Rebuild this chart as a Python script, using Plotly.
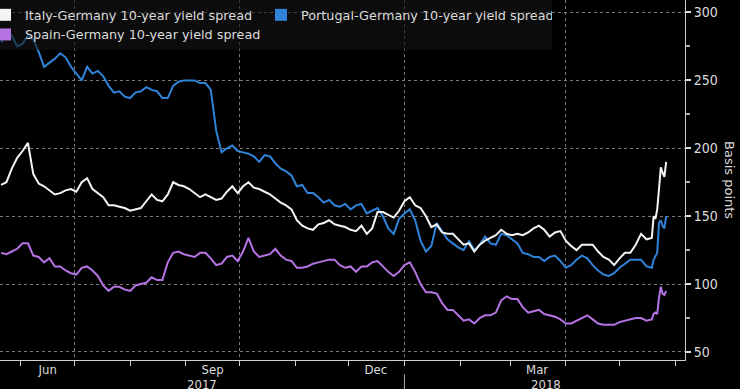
import pandas as pd
import plotly.graph_objects as go

# ---------------- data ----------------
base_dates = pd.date_range("2017-05-21", periods=122, freq="3D")
tail_dates = pd.date_range("2018-05-20", periods=8, freq="D")
dates = list(base_dates) + list(tail_dates)

italy = [173, 175, 185, 193, 198, 204, 181, 174, 172, 169,
         166, 167, 169, 170, 168, 175, 178, 170, 167, 164,
         158, 158, 157, 156, 154, 155, 156, 161, 166, 162,
         161, 166, 175, 173, 172, 170, 167, 164, 166, 164,
         162, 163, 168, 172, 167, 172, 175, 171, 170, 168,
         166, 163, 160, 158, 155, 147, 143, 141, 140, 144,
         145, 147, 144, 143, 142, 140, 139, 143, 137, 141,
         153, 153, 151, 149, 154, 161, 164, 158, 156, 150,
         142, 144, 138, 137, 137, 133, 129, 130, 124, 129,
         132, 134, 136, 140, 137, 136, 137, 136, 138, 141,
         143, 140, 135, 138, 139, 132, 128, 125, 129, 129,
         129, 124, 120, 118, 114, 119, 123, 123, 129, 137,
         133, 134,
         150, 148, 155, 170, 186, 182, 179, 190]

portugal = [278, 284, 283, 275, 277, 283, 280, 271, 260, 263,
            266, 270, 267, 260, 255, 250, 260, 255, 257, 253,
            246, 241, 242, 238, 237, 241, 242, 245, 243, 242,
            237, 237, 246, 249, 250, 250, 250, 248, 248, 243,
            213, 197, 200, 202, 198, 197, 196, 194, 190, 195,
            194, 189, 185, 183, 180, 172, 173, 167, 167, 164,
            160, 162, 158, 157, 159, 155, 158, 159, 152, 154,
            156, 150, 141, 137, 148, 152, 155, 147, 132, 124,
            128, 145, 139, 133, 130, 127, 125, 132, 125, 129,
            135, 130, 129, 137, 136, 133, 130, 123, 122, 120,
            120, 117, 120, 121, 117, 112, 114, 118, 121, 119,
            114, 110, 107, 106, 108, 112, 115, 118, 118, 118,
            113, 112,
            118, 121, 123, 145, 147, 143, 141, 150]

spain = [123, 122, 124, 126, 130, 130, 121, 120, 116, 119,
         113, 113, 110, 108, 107, 112, 113, 110, 106, 99,
         95, 98, 98, 96, 95, 99, 100, 101, 105, 103,
         103, 116, 123, 124, 122, 121, 120, 123, 123, 119,
         114, 115, 120, 121, 117, 124, 134, 124, 120, 121,
         122, 126, 121, 118, 117, 112, 112, 113, 115, 116,
         117, 118, 118, 114, 112, 113, 109, 113, 113, 116,
         117, 113, 109, 106, 109, 114, 116, 109, 100, 94,
         94, 93, 86, 81, 81, 77, 73, 74, 71, 75,
         77, 77, 79, 88, 91, 89, 89, 83, 79, 80,
         81, 78, 77, 76, 74, 71, 71, 73, 75, 77,
         74, 71, 70, 70, 70, 72, 73, 74, 75, 75,
         73, 74,
         78, 79, 78, 90, 98, 93, 92, 95]

series_names = ["Italy-Germany 10-year yield spread",
                "Portugal-Germany 10-year yield spread",
                "Spain-Germany 10-year yield spread"]
series_values = [italy, portugal, spain]
series_colors = ["#f4f4f4", "#2f84da", "#b673e3"]

month_label_dates = ["2017-06-16", "2017-09-16", "2017-12-16", "2018-03-16"]
month_labels = ["Jun", "Sep", "Dec", "Mar"]
year_label_dates = ["2017-09-10", "2018-03-21"]
year_labels = ["2017", "2018"]
y_tick_values = [50, 100, 150, 200, 250, 300]
x_range = ["2017-05-20 10:00", "2018-06-06 12:00"]

# ---------------- figure ----------------
fig = go.Figure()

for name, vals, col in reversed(list(zip(series_names, series_values, series_colors))):
    fig.add_trace(go.Scatter(x=dates, y=vals, mode="lines", name=name,
                             line=dict(color=col, width=2), showlegend=False,
                             xaxis="x", yaxis="y"))

# legend entries with square swatches
for name, col in zip(series_names, series_colors):
    fig.add_trace(go.Scatter(x=[None], y=[None], mode="markers", name=name,
                             marker=dict(symbol="square", size=14, color=col),
                             showlegend=True, xaxis="x2", yaxis="y"))

narrow = "Liberation Sans Narrow, DejaVu Sans Condensed, Arial Narrow, sans-serif"
wide = "DejaVu Sans, Verdana, sans-serif"
tick_font = dict(family=narrow, size=13, color="#dcdcdc")

fig.update_layout(
    width=740, height=389,
    margin=dict(l=0, r=55, t=0, b=29, autoexpand=False),
    paper_bgcolor="#000000",
    plot_bgcolor="#000000",
    font=dict(family=wide, size=12, color="#dcdcdc"),
    xaxis=dict(
        type="date", range=x_range, autorange=False,
        tickmode="linear", tick0="2017-04-01", dtick="M3",
        showticklabels=False,
        ticks="outside", ticklen=5, tickcolor="#cccccc", tickwidth=1,
        showgrid=True, gridcolor="#7a7a7a", griddash="dot", gridwidth=1,
        minor=dict(tickmode="linear", tick0="2017-04-01", dtick="M1",
                   ticks="outside", ticklen=5, tickcolor="#cccccc", showgrid=False),
        showline=True, linecolor="#cfcfcf", linewidth=1,
        zeroline=False,
    ),
    xaxis2=dict(
        type="date", overlaying="x", anchor="y", side="bottom",
        range=x_range, autorange=False,
        tickmode="array", tickvals=month_label_dates, ticktext=month_labels,
        ticks="", showgrid=False, showline=False, zeroline=False,
        tickfont=tick_font,
    ),
    yaxis=dict(
        side="right",
        range=[44.1, 309.2], autorange=False,
        tickmode="array", tickvals=y_tick_values,
        ticks="outside", ticklen=5, tickcolor="#dddddd", tickwidth=2,
        minor=dict(tickmode="linear", tick0=25, dtick=50, ticks="outside",
                   ticklen=4, tickcolor="#aaaaaa", showgrid=False),
        showgrid=True, gridcolor="#7a7a7a", griddash="dot", gridwidth=1,
        showline=True, linecolor="#cfcfcf", linewidth=1,
        zeroline=False,
        tickfont=dict(family=narrow, size=14, color="#dcdcdc"),
    ),
    legend=dict(
        orientation="h", x=0, y=1.0, xanchor="left", yanchor="top",
        bgcolor="rgba(20,20,20,0.6)",
        font=dict(family=wide, size=12.8, color="#dcdcdc"),
        entrywidth=246, entrywidthmode="pixels",
        indentation=-15,
        itemsizing="constant",
        tracegroupgap=0,
    ),
    showlegend=True,
)

fig.add_annotation(text="Basis points", xref="paper", yref="paper", x=1.0, y=0.5,
                   xanchor="center", yanchor="middle",
                   xshift=45, textangle=90, showarrow=False,
                   font=dict(family=wide, size=13, color="#dcdcdc"))

for d, t in zip(year_label_dates, year_labels):
    fig.add_annotation(text=t, x=d, xref="x", yref="paper", y=-0.068, yanchor="middle",
                       showarrow=False, font=tick_font)

fig.add_shape(type="line", xref="x", yref="paper", x0="2018-01-01", x1="2018-01-01",
              y0=-0.04, y1=-0.09, line=dict(color="#aaaaaa", width=1))

fig.write_html("out.html", config={"displayModeBar": False},
               post_script="document.body.style.margin='0';document.body.style.overflow='hidden';")
